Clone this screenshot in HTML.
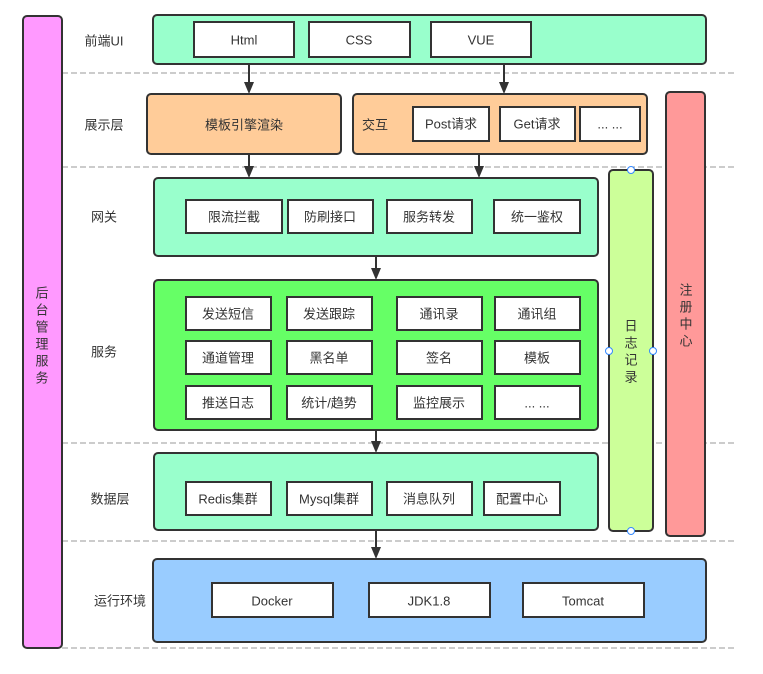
<!DOCTYPE html>
<html><head><meta charset="utf-8"><style>
html,body{margin:0;padding:0;background:#fff;}
svg text{font-family:"Liberation Sans","Noto Sans CJK SC",sans-serif;font-size:13px;fill:#333;}
</style></head><body>
<svg width="763" height="669" viewBox="0 0 763 669" xmlns="http://www.w3.org/2000/svg">
<g stroke="#999" stroke-dasharray="6,3" stroke-width="1">
<line x1="62" y1="73" x2="734" y2="73"/><line x1="62" y1="167" x2="734" y2="167"/>
<line x1="62" y1="443" x2="734" y2="443"/><line x1="62" y1="541" x2="734" y2="541"/>
<line x1="62" y1="648" x2="734" y2="648"/>
</g>
<g stroke="#333" stroke-width="2">
<rect x="23" y="16" width="39" height="632" rx="4" fill="#FF99FF"/>
<rect x="153" y="15" width="553" height="49" rx="4" fill="#99FFCC"/>
<rect x="147" y="94" width="194" height="60" rx="4" fill="#FFCC99"/>
<rect x="353" y="94" width="294" height="60" rx="4" fill="#FFCC99"/>
<rect x="666" y="92" width="39" height="444" rx="4" fill="#FF9999"/>
<rect x="609" y="170" width="44" height="361" rx="4" fill="#CCFF99"/>
<rect x="154" y="178" width="444" height="78" rx="4" fill="#99FFCC"/>
<rect x="154" y="280" width="444" height="150" rx="4" fill="#66FF66"/>
<rect x="154" y="453" width="444" height="77" rx="4" fill="#99FFCC"/>
<rect x="153" y="559" width="553" height="83" rx="4" fill="#99CCFF"/>
</g>
<g stroke="#333" stroke-width="2" fill="#fff">
<rect x="194" y="22" width="100" height="35"/><rect x="309" y="22" width="101" height="35"/><rect x="431" y="22" width="100" height="35"/>
<rect x="413" y="107" width="76" height="34"/><rect x="500" y="107" width="75" height="34"/><rect x="580" y="107" width="60" height="34"/>
<rect x="186" y="200" width="96" height="33"/><rect x="288" y="200" width="85" height="33"/><rect x="387" y="200" width="85" height="33"/><rect x="494" y="200" width="86" height="33"/>
<rect x="186" y="297" width="85" height="33"/><rect x="287" y="297" width="85" height="33"/><rect x="397" y="297" width="85" height="33"/><rect x="495" y="297" width="85" height="33"/>
<rect x="186" y="341" width="85" height="33"/><rect x="287" y="341" width="85" height="33"/><rect x="397" y="341" width="85" height="33"/><rect x="495" y="341" width="85" height="33"/>
<rect x="186" y="386" width="85" height="33"/><rect x="287" y="386" width="85" height="33"/><rect x="397" y="386" width="85" height="33"/><rect x="495" y="386" width="85" height="33"/>
<rect x="186" y="482" width="85" height="33"/><rect x="287" y="482" width="85" height="33"/><rect x="387" y="482" width="85" height="33"/><rect x="484" y="482" width="76" height="33"/>
<rect x="212" y="583" width="121" height="34"/><rect x="369" y="583" width="121" height="34"/><rect x="523" y="583" width="121" height="34"/>
</g>
<g stroke="#333" stroke-width="2">
<line x1="249" y1="64" x2="249" y2="84"/><line x1="504" y1="64" x2="504" y2="84"/>
<line x1="249" y1="154" x2="249" y2="168"/><line x1="479" y1="154" x2="479" y2="168"/>
<line x1="376" y1="256" x2="376" y2="270"/><line x1="376" y1="430" x2="376" y2="443"/>
<line x1="376" y1="530" x2="376" y2="549"/>
</g>
<g fill="#333">
<path d="M244,82 L254,82 L249,94 z"/><path d="M499,82 L509,82 L504,94 z"/>
<path d="M244,166 L254,166 L249,178 z"/><path d="M474,166 L484,166 L479,178 z"/>
<path d="M371,268 L381,268 L376,280 z"/><path d="M371,441 L381,441 L376,453 z"/>
<path d="M371,547 L381,547 L376,559 z"/>
</g>
<g fill="#fff" stroke="#3388ff" stroke-width="1">
<circle cx="631" cy="170" r="3.5"/><circle cx="631" cy="531" r="3.5"/><circle cx="609" cy="351" r="3.5"/><circle cx="653" cy="351" r="3.5"/>
</g>
<g text-anchor="middle" dominant-baseline="central">
<text x="104" y="41">前端UI</text><text x="104" y="125">展示层</text><text x="104" y="217">网关</text>
<text x="104" y="352">服务</text><text x="110" y="499">数据层</text><text x="120" y="601">运行环境</text>
<text x="244" y="40">Html</text><text x="359" y="40">CSS</text><text x="481" y="40">VUE</text>
<text x="244" y="125">模板引擎渲染</text><text x="375" y="125">交互</text>
<text x="451" y="124">Post请求</text><text x="537" y="124">Get请求</text><text x="610" y="124">... ...</text>
<text x="234" y="217">限流拦截</text><text x="330" y="217">防刷接口</text><text x="429" y="217">服务转发</text><text x="537" y="217">统一鉴权</text>
<text x="228" y="314">发送短信</text><text x="329" y="314">发送跟踪</text><text x="439" y="314">通讯录</text><text x="537" y="314">通讯组</text>
<text x="228" y="358">通道管理</text><text x="329" y="358">黑名单</text><text x="439" y="358">签名</text><text x="537" y="358">模板</text>
<text x="228" y="403">推送日志</text><text x="329" y="403">统计/趋势</text><text x="439" y="403">监控展示</text><text x="537" y="403">... ...</text>
<text x="228" y="499">Redis集群</text><text x="329" y="499">Mysql集群</text><text x="429" y="499">消息队列</text><text x="522" y="499">配置中心</text>
<text x="272" y="601">Docker</text><text x="429" y="601">JDK1.8</text><text x="583" y="601">Tomcat</text>
<text x="42" y="293">后</text><text x="42" y="310">台</text><text x="42" y="327">管</text><text x="42" y="344">理</text><text x="42" y="361">服</text><text x="42" y="378">务</text>
<text x="631" y="326">日</text><text x="631" y="343">志</text><text x="631" y="360">记</text><text x="631" y="377">录</text>
<text x="686" y="290">注</text><text x="686" y="307">册</text><text x="686" y="324">中</text><text x="686" y="341">心</text>
</g>
</svg>
</body></html>
